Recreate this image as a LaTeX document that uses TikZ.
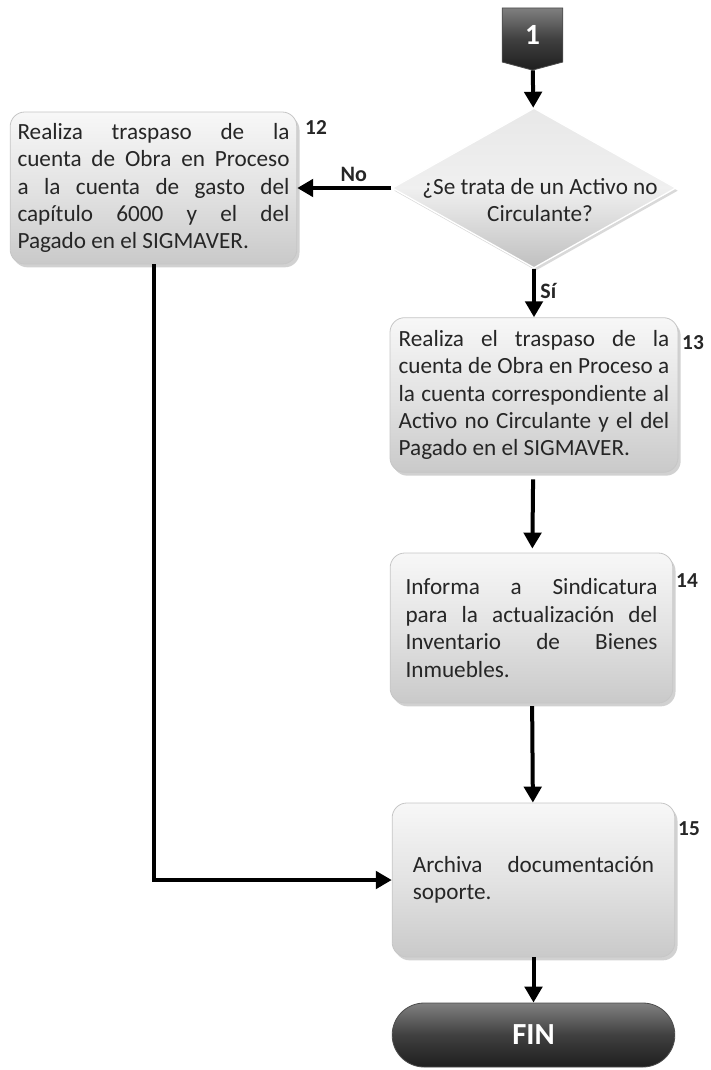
\documentclass[tikz,border=0pt]{standalone}
\usepackage{fontspec}
\setmainfont{Carlito}
\usetikzlibrary{shapes.geometric,shapes.symbols,shadows,arrows.meta}

\begin{document}
\begin{tikzpicture}[x=0.75pt,y=-0.75pt,
  boxtext/.style={font=\fontsize{17.4}{20.6}\selectfont, text=black!85},
  proc/.style={boxtext, draw=gray!45, line width=0.6pt, rounded corners=11pt,
    top color=gray!6, bottom color=gray!42, middle color=gray!22,
    drop shadow={shadow xshift=2pt, shadow yshift=-2.5pt, opacity=0.3, fill=black!60},
    inner sep=0pt, align=justify},
  decision/.style={diamond, draw=white, line width=1pt, inner sep=0pt,
    top color=gray!18, bottom color=gray!50, middle color=gray!12,
    drop shadow={shadow xshift=1.5pt, shadow yshift=-2pt, opacity=0.25, fill=black!60}},
  darkterm/.style={draw=black!70, line width=0.6pt,
    top color=black!50, bottom color=black!88, middle color=black!75,
    text=white, inner sep=0pt},
  flow/.style={line width=3pt, -{Triangle[width=13pt,length=12pt]}},
  stepno/.style={font=\fontsize{16}{17}\selectfont\bfseries, text=black!85},
  branch/.style={font=\fontsize{16.5}{17}\selectfont\bfseries, text=black!85}]

\useasboundingbox (0,0) rectangle (710,1070);

% off-page connector
\node[signal, signal to=south, signal pointer angle=150, darkterm,
  font=\fontsize{22}{24}\selectfont\bfseries,
  minimum width=45.5pt, minimum height=42pt] (c1) at (532.5,35) {1};

% decision
\node[decision, minimum width=213pt, minimum height=120pt] (dia) at (534,188) {};
\node[boxtext, align=center] (dtxt) at (540,200) {¿Se trata de un Activo no\\Circulante?};

% process steps
\node[proc, minimum width=215pt, minimum height=114pt, text width=204pt] (b12) at (153.5,188)
  {Realiza traspaso de la\linebreak cuenta de Obra en Proceso\linebreak a la cuenta de gasto del\linebreak capítulo 6000 y el del\linebreak Pagado en el SIGMAVER.};
\node[proc, minimum width=216pt, minimum height=116pt, text width=203pt] (b13) at (534,395)
  {Realiza el traspaso de la\linebreak cuenta de Obra en Proceso a\linebreak la cuenta correspondiente al\linebreak Activo no Circulante y el del\linebreak Pagado en el SIGMAVER.};
\node[proc, minimum width=212pt, minimum height=112.5pt, text width=189pt] (b14) at (531.5,628)
  {Informa a Sindicatura\linebreak para la actualización del\linebreak Inventario de Bienes\linebreak Inmuebles.};
\node[proc, minimum width=212pt, minimum height=115.5pt, text width=181pt] (b15) at (533.5,880)
  {Archiva documentación\linebreak soporte.};

% end terminal
\node[darkterm, rounded corners=24pt, minimum width=212pt, minimum height=48pt,
  font=\fontsize{23}{25}\selectfont\bfseries] (fin) at (533.5,1035) {\raisebox{-4pt}{FIN}};

% step numbers
\node[stepno] (n12) at (316,128) {12};
\node[stepno] (n13) at (693,343) {13};
\node[stepno] (n14) at (687,581) {14};
\node[stepno] (n15) at (689,829) {15};

% connectors
\draw[flow] (c1) -- (dia);
\draw[flow] (dia.west) -- node[branch, above, pos=0.4] (lno) {No} (b12.east);
\draw[flow] (dia.south) -- node[branch, right, pos=0.45] (lsi) {Sí} (b13.north);
\draw[flow, shorten <=5pt, shorten >=3pt] (b13) -- (b14);
\draw[flow, shorten <=2pt] (b14) -- (b15);
\draw[flow] (b15) -- (fin);
\draw[flow] (b12.south) |- (b15.west);

\end{tikzpicture}
\end{document}
